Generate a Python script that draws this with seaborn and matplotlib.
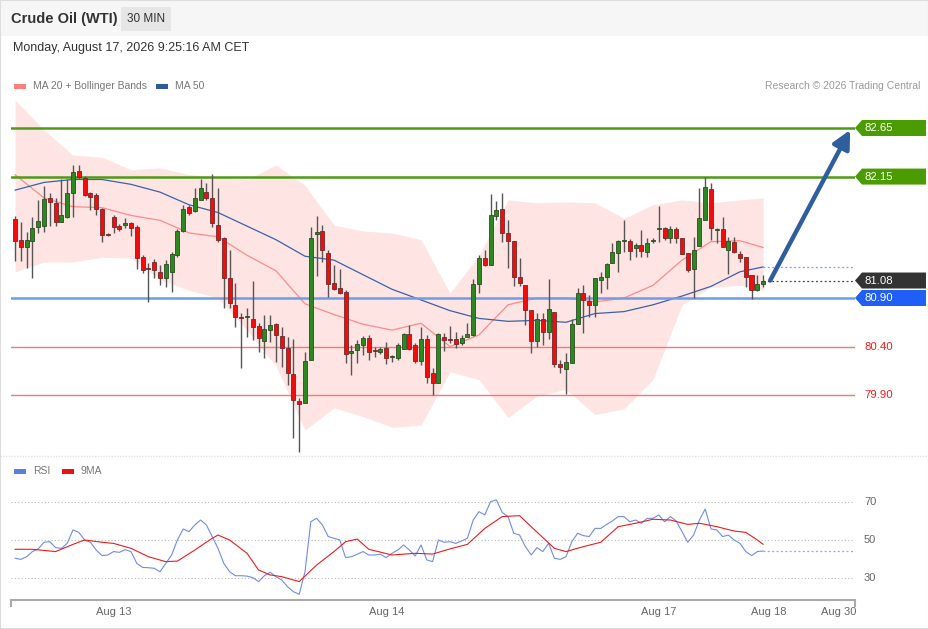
import numpy as np
import pandas as pd
import matplotlib
matplotlib.use("Agg")
import matplotlib.pyplot as plt
import matplotlib.transforms as mtransforms
from matplotlib.patches import Polygon, Rectangle
from matplotlib.lines import Line2D
import seaborn as sns

# ---------------- data (30 min candles) ----------------
opens = [81.71, 81.50, 81.42, 81.49, 81.63, 81.64, 81.93, 81.88, 81.68, 81.73,
         81.98, 82.21, 82.14, 81.98, 81.96, 81.82, 81.56, 81.73, 81.64, 81.65,
         81.67, 81.63, 81.32, 81.21, 81.27, 81.17, 81.11, 81.17, 81.34, 81.59,
         81.84, 81.80, 81.91, 81.99, 81.93, 81.65, 81.52, 81.11, 80.83, 80.70,
         80.70, 80.68, 80.61, 80.46, 80.57, 80.63, 80.51, 80.39, 80.12, 79.84,
         79.82, 80.26, 81.56, 81.59, 81.36, 81.05, 81.00, 80.96, 80.33, 80.36,
         80.42, 80.49, 80.36, 80.34, 80.39, 80.29, 80.28, 80.38, 80.53, 80.42,
         80.25, 80.48, 80.13, 80.03, 80.50, 80.48, 80.48, 80.44, 80.50, 80.52,
         81.04, 81.31, 81.24, 81.74, 81.82, 81.57, 81.49, 81.12, 81.03, 80.78,
         80.46, 80.68, 80.55, 80.76, 80.22, 80.17, 80.23, 80.63, 80.95, 80.87,
         80.83, 81.09, 81.12, 81.26, 81.36, 81.49, 81.49, 81.41, 81.45, 81.37,
         81.49, 81.61, 81.62, 81.52, 81.61, 81.52, 81.36, 81.20, 81.44, 81.70,
         82.02, 81.60, 81.61, 81.39, 81.48, 81.35, 81.32, 81.14, 80.98, 81.04]
highs = [81.74, 81.68, 81.58, 81.73, 81.91, 82.05, 81.98, 81.93, 82.12, 82.12,
         82.27, 82.27, 82.16, 81.99, 81.98, 81.83, 81.57, 81.75, 81.66, 81.72,
         81.68, 81.65, 81.34, 81.26, 81.30, 81.24, 81.29, 81.37, 81.61, 81.86,
         81.86, 82.03, 82.12, 82.08, 82.18, 82.03, 81.53, 81.39, 81.05, 80.75,
         80.80, 81.07, 80.64, 80.72, 80.72, 80.64, 80.60, 80.50, 80.48, 79.87,
         80.34, 81.63, 81.74, 81.65, 81.39, 81.24, 81.20, 80.98, 80.42, 80.47,
         80.51, 80.52, 80.40, 80.40, 80.45, 80.31, 80.44, 80.54, 80.62, 80.44,
         80.60, 80.52, 80.18, 80.54, 80.54, 80.61, 80.55, 80.52, 80.64, 81.10,
         81.34, 81.39, 81.97, 81.90, 81.98, 81.70, 81.49, 81.31, 81.03, 80.78,
         80.75, 80.75, 81.10, 80.76, 80.26, 80.33, 80.68, 81.00, 81.03, 80.93,
         81.11, 81.17, 81.26, 81.47, 81.50, 81.70, 81.51, 81.47, 81.60, 81.52,
         81.52, 81.85, 81.63, 81.64, 81.63, 81.52, 81.36, 81.53, 82.03, 82.15,
         82.08, 81.62, 81.73, 81.53, 81.53, 81.38, 81.32, 81.14, 81.14, 81.14]
lows = [81.28, 81.28, 81.21, 81.11, 81.57, 81.58, 81.64, 81.64, 81.68, 81.72,
        81.73, 82.12, 81.95, 81.81, 81.75, 81.48, 81.54, 81.57, 81.59, 81.62,
        81.54, 81.20, 81.16, 80.86, 81.11, 81.03, 81.01, 80.96, 81.32, 81.58,
        81.75, 81.79, 81.91, 81.91, 81.63, 81.48, 80.80, 80.80, 80.60, 80.18,
        80.50, 80.47, 80.34, 80.28, 80.45, 80.24, 80.19, 80.00, 79.46, 79.31,
        79.82, 80.26, 81.13, 81.27, 80.91, 80.98, 80.94, 80.23, 80.11, 80.23,
        80.31, 80.26, 80.29, 80.32, 80.22, 80.24, 80.26, 80.38, 80.36, 80.23,
        80.21, 80.03, 79.90, 80.02, 80.35, 80.44, 80.39, 80.42, 80.50, 80.51,
        80.95, 81.23, 81.24, 81.70, 81.48, 81.21, 81.02, 81.02, 80.62, 80.33,
        80.40, 80.42, 80.48, 80.19, 80.13, 79.91, 80.23, 80.63, 80.54, 80.70,
        80.70, 80.95, 80.99, 81.26, 81.17, 81.37, 81.29, 81.32, 81.32, 81.32,
        81.47, 81.48, 81.50, 81.47, 81.47, 81.35, 81.17, 80.90, 81.44, 81.70,
        81.50, 81.47, 81.43, 81.15, 81.36, 81.27, 81.01, 80.89, 80.97, 81.01]
closes = [81.49, 81.43, 81.50, 81.62, 81.69, 81.92, 81.89, 81.68, 81.75, 81.98,
          82.20, 82.15, 81.96, 81.94, 81.82, 81.55, 81.55, 81.63, 81.61, 81.67,
          81.62, 81.31, 81.19, 81.20, 81.19, 81.11, 81.25, 81.35, 81.59, 81.82,
          81.77, 81.93, 82.03, 81.93, 81.67, 81.50, 81.11, 80.85, 80.70, 80.69,
          80.70, 80.60, 80.49, 80.58, 80.62, 80.52, 80.39, 80.13, 79.85, 79.81,
          80.25, 81.52, 81.58, 81.39, 81.04, 80.99, 80.95, 80.32, 80.35, 80.43,
          80.49, 80.34, 80.35, 80.38, 80.28, 80.29, 80.42, 80.53, 80.38, 80.25,
          80.48, 80.09, 80.03, 80.53, 80.47, 80.47, 80.43, 80.49, 80.53, 81.04,
          81.31, 81.24, 81.75, 81.81, 81.57, 81.49, 81.12, 81.05, 80.78, 80.46,
          80.68, 80.55, 80.79, 80.22, 80.19, 80.24, 80.63, 80.95, 80.88, 80.83,
          81.11, 81.12, 81.25, 81.37, 81.49, 81.50, 81.38, 81.45, 81.38, 81.47,
          81.49, 81.61, 81.52, 81.61, 81.52, 81.35, 81.19, 81.39, 81.72, 82.04,
          81.62, 81.60, 81.43, 81.49, 81.37, 81.31, 81.12, 80.98, 81.04, 81.08]

# indicator curves, read at every 5th candle
band_idx = [0, 5, 10, 15, 20, 25, 30, 35, 40, 45, 50, 55, 60, 65, 70,
            75, 80, 85, 90, 95, 100, 105, 110, 115, 120, 125, 129]
ma20 = [82.17, 81.93, 81.84, 81.83, 81.75, 81.70, 81.57, 81.53, 81.34, 81.18,
        80.84, 80.73, 80.63, 80.57, 80.64, 80.40, 80.52, 80.83, 80.90, 80.90,
        80.86, 80.90, 81.03, 81.29, 81.48, 81.49, 81.42]
bb_upper = [82.94, 82.63, 82.37, 82.35, 82.22, 82.24, 82.17, 82.15, 82.12, 82.27,
            82.06, 81.65, 81.59, 81.57, 81.50, 80.95, 81.34, 81.91, 81.88, 81.89,
            81.88, 81.72, 81.86, 81.91, 81.88, 81.91, 81.93]
bb_lower = [81.17, 81.27, 81.27, 81.32, 81.31, 81.09, 80.98, 80.90, 80.57, 80.20,
            79.54, 79.77, 79.68, 79.57, 79.59, 80.14, 80.06, 79.67, 79.89, 79.96,
            79.70, 79.76, 80.06, 80.83, 81.01, 81.03, 80.98]
ma50 = [82.01, 82.09, 82.12, 82.12, 82.07, 81.99, 81.86, 81.78, 81.64, 81.50,
        81.33, 81.29, 81.14, 80.99, 80.88, 80.77, 80.69, 80.66, 80.67, 80.65,
        80.74, 80.76, 80.83, 80.92, 81.02, 81.17, 81.22]

rsi = [40.4, 39.8, 41.2, 43.9, 45.3, 48.8, 49.1, 46.0, 45.6, 48.2,
       55.3, 54.0, 50.0, 48.8, 44.7, 41.8, 42.1, 43.9, 43.5, 44.9,
       43.9, 37.7, 35.6, 35.4, 35.1, 33.3, 37.7, 42.1, 50.0, 55.8,
       54.4, 57.9, 60.5, 57.9, 51.8, 45.6, 37.7, 33.3, 31.2, 31.2,
       31.0, 30.2, 28.1, 31.2, 33.0, 30.7, 28.9, 25.4, 22.8, 21.4,
       33.3, 59.6, 61.4, 57.9, 51.8, 50.9, 50.0, 40.7, 41.2, 42.5,
       43.9, 42.1, 42.1, 42.5, 40.7, 43.0, 44.7, 47.4, 44.7, 41.6,
       47.4, 39.5, 38.6, 50.0, 48.8, 49.1, 48.2, 49.5, 50.9, 60.5,
       64.9, 63.2, 70.2, 71.1, 64.5, 62.3, 53.5, 52.6, 46.5, 42.1,
       46.0, 43.9, 48.2, 40.4, 39.8, 41.2, 49.1, 53.5, 52.3, 51.8,
       56.1, 56.1, 58.2, 60.0, 62.3, 62.3, 59.6, 60.5, 58.8, 61.4,
       61.4, 63.2, 59.6, 62.3, 60.0, 54.4, 48.8, 52.6, 60.5, 66.3,
       55.8, 55.3, 51.8, 52.6, 50.0, 48.2, 43.9, 41.8, 43.9, 44.2]
ma9_idx = [0, 3, 7, 10, 12, 15, 17, 20, 23, 26, 28, 31, 34, 35, 37, 40, 42, 44,
           46, 49, 52, 55, 57, 59, 61, 65, 69, 72, 75, 78, 81, 84, 87, 89, 93,
           95, 98, 101, 104, 107, 110, 113, 116, 118, 121, 124, 126, 128, 129]
ma9 = [45.1, 45.1, 43.9, 47.7, 50.0, 48.8, 48.2, 45.6, 41.2, 38.6, 38.9, 44.7,
       50.9, 52.6, 50.0, 43.0, 34.2, 31.6, 30.7, 28.1, 36.8, 43.9, 49.1, 50.5,
       45.1, 42.1, 43.0, 42.6, 45.3, 47.7, 56.1, 62.3, 62.8, 57.0, 45.6, 43.9,
       46.5, 48.8, 57.0, 58.8, 60.9, 60.5, 58.2, 58.8, 57.0, 54.7, 54.0, 50.0,
       47.7]

resistances = [82.65, 82.15]
pivot = 80.90
supports = [80.40, 79.90]
rsi_levels = [70, 50, 30]

day_labels = ["Aug 13", "Aug 14", "Aug 17", "Aug 18", "Aug 30"]
day_ticks = [17, 64, 111, 130, 142]

# ---------------- style ----------------
sns.set_theme(style="white")
plt.rcParams['font.family'] = ['Liberation Sans', 'DejaVu Sans']

W, H = 929, 629
fig = plt.figure(figsize=(W / 100, H / 100), dpi=100)
fig.patch.set_facecolor("white")


def fx(px):
    return px / W


def fy(py):
    return 1 - py / H


# x range in candle units (px 11 .. 855)
XMIN, XMAX = -0.69, 144.83

ax = fig.add_axes([fx(11), fy(455), fx(855) - fx(11), fy(60) - fy(455)])
ax_rsi = fig.add_axes([fx(11), fy(600), fx(855) - fx(11), fy(490) - fy(600)])

df = pd.DataFrame({"open": opens, "high": highs, "low": lows, "close": closes})
df["idx"] = np.arange(len(df))
n = len(df)

# Bollinger band and moving averages
bands = pd.DataFrame({"idx": band_idx, "ma20": ma20, "up": bb_upper,
                      "lo": bb_lower, "ma50": ma50})
ax.fill_between(bands["idx"], bands["lo"], bands["up"], color="#ffe4e4",
                lw=0, zorder=1)
sns.lineplot(data=bands, x="idx", y="ma20", ax=ax, color="#ff8a8a", lw=0.9,
             zorder=2)
sns.lineplot(data=bands, x="idx", y="ma50", ax=ax, color="#3a62a6", lw=0.9,
             zorder=2)

# horizontal levels
for lvl in resistances:
    ax.axhline(lvl, color="#4e9a18", lw=1.8, zorder=3)
ax.axhline(pivot, color="#6e9ce8", lw=1.8, zorder=3)
for lvl in supports:
    ax.axhline(lvl, color="#f07a7a", lw=1.0, zorder=3)

# candles
up = df["close"] >= df["open"]
ax.vlines(df["idx"], df["low"], df["high"], color="#555555", lw=1.0, zorder=4)
body_lo = np.minimum(df["open"], df["close"])
body_h = np.maximum((df["close"] - df["open"]).abs(), 0.012)
ax.bar(df["idx"][up], body_h[up], bottom=body_lo[up], width=0.72,
       color="#2b8a1f", edgecolor="#2d4a22", lw=0.6, zorder=5)
ax.bar(df["idx"][~up], body_h[~up], bottom=body_lo[~up], width=0.72,
       color="#f20c0c", edgecolor="#6e2a2a", lw=0.6, zorder=5)

# dotted continuations to the price scale
last_close = closes[-1]
ax.hlines(last_close, n - 1, XMAX, colors="#444444", linestyles=(0, (1.5, 2)),
          lw=0.9, zorder=3)
ax.hlines(ma50[-1], n - 1, XMAX, colors="#7f9fdc", linestyles=(0, (1.5, 2)),
          lw=0.9, zorder=3)

# forecast arrow towards the first target
ax.annotate("", xy=(n + 14, resistances[0] - 0.02), xytext=(n + 0.2, last_close),
            arrowprops=dict(arrowstyle="-|>,head_length=0.9,head_width=0.45",
                            color="#2f5e9e", lw=3.2, shrinkA=0, shrinkB=0),
            zorder=6)

ax.set_xlim(XMIN, XMAX)
ax.set_ylim(79.284, 83.35)
ax.set_axis_off()

# price tags on the right
trans = mtransforms.blended_transform_factory(ax.transAxes, ax.transData)
hh = 8 / 97.14


def price_tag(price, color):
    pts = [(1.0, price), (1.0083, price + hh), (1.0841, price + hh),
           (1.0841, price - hh), (1.0083, price - hh)]
    ax.add_patch(Polygon(pts, closed=True, transform=trans, facecolor=color,
                         edgecolor="none", clip_on=False, zorder=7))
    ax.text(1.0107, price, f"{price:.2f}", transform=trans, color="white",
            fontsize=8.2, va="center", ha="left", clip_on=False, zorder=8)


for lvl in resistances:
    price_tag(lvl, "#4a9c00")
price_tag(last_close, "#333333")
price_tag(pivot, "#1f5ff5")
for lvl in supports:
    ax.text(1.0107, lvl, f"{lvl:.2f}", transform=trans, color="#ff1a1a",
            fontsize=8.2, va="center", ha="left", clip_on=False)

# ---------------- RSI panel ----------------
rsi_df = pd.DataFrame({"idx": np.arange(n), "rsi": rsi})
ma9_df = pd.DataFrame({"idx": ma9_idx, "ma9": ma9})
for lvl in rsi_levels:
    ax_rsi.axhline(lvl, color="#bbbbbb", lw=0.8, linestyle=(0, (1, 2)))
    ax_rsi.text(1.0107, lvl, str(lvl), transform=ax_rsi.get_yaxis_transform(),
                color="#666666", fontsize=8, va="center", ha="left")
sns.lineplot(data=rsi_df, x="idx", y="rsi", ax=ax_rsi, color="#6f8de6", lw=0.8)
sns.lineplot(data=ma9_df, x="idx", y="ma9", ax=ax_rsi, color="#ee1c1c", lw=0.8)
ax_rsi.hlines(rsi[-1], n - 1, XMAX, colors="#8ea6ee", linestyles=(0, (1.5, 2)),
              lw=0.9)

ax_rsi.set_xlim(XMIN, XMAX)
ax_rsi.set_ylim(18.42, 76.3)
ax_rsi.set_xlabel("")
ax_rsi.set_ylabel("")
ax_rsi.set_yticks([])
ax_rsi.set_xticks(day_ticks)
ax_rsi.set_xticklabels(day_labels, fontsize=8, color="#666666")
ax_rsi.set_xticks([XMIN, XMAX], minor=True)
ax_rsi.tick_params(axis="x", which="major", length=0, pad=5)
ax_rsi.tick_params(axis="x", which="minor", length=5, width=1.5,
                   color="#aaaaaa", direction="out", bottom=True)
for side in ["top", "left", "right"]:
    ax_rsi.spines[side].set_visible(False)
ax_rsi.spines["bottom"].set_color("#aaaaaa")
ax_rsi.spines["bottom"].set_linewidth(1.5)
ax_rsi.set_facecolor("none")
ax.set_xlabel("")
ax.set_ylabel("")

# ---------------- header, legends, frame ----------------
fig.patches.append(Rectangle((0, fy(36)), 1, fy(0) - fy(36), transform=fig.transFigure,
                             facecolor="#f6f6f6", edgecolor="none", zorder=0))
fig.patches.append(Rectangle((fx(121), fy(31)), fx(50), fy(7) - fy(31),
                             transform=fig.transFigure, facecolor="#e6e6e6",
                             edgecolor="none", zorder=1))
fig.text(fx(11), fy(19), "Crude Oil (WTI)", fontsize=10.5, fontweight="bold",
         color="#333333", va="center")
fig.text(fx(146), fy(19), "30 MIN", fontsize=8.5, color="#333333",
         va="center", ha="center")
fig.text(fx(13), fy(48), "Monday, August 17, 2026 9:25:16 AM CET", fontsize=9,
         color="#333333", va="center")


def legend_item(x0, y0, color, label):
    fig.patches.append(Rectangle((fx(x0), fy(y0 + 3)), fx(12), fy(0) - fy(5),
                                 transform=fig.transFigure, facecolor=color,
                                 edgecolor="none", zorder=3))
    fig.text(fx(x0 + 19), fy(y0), label, fontsize=7.5, color="#777777",
             va="center")


legend_item(14, 86, "#ff7f7f", "MA 20 + Bollinger Bands")
legend_item(156, 86, "#2f5b9c", "MA 50")
legend_item(14, 471, "#5b7fe0", "RSI")
legend_item(62, 471, "#ee1111", "9MA")
fig.text(fx(920), fy(86), "Research \u00a9 2026 Trading Central", fontsize=7.5,
         color="#999999", va="center", ha="right")

fig.lines.append(Line2D([fx(0), fx(929)], [fy(456), fy(456)], transform=fig.transFigure,
                        color="#e4e4e4", lw=1, linestyle=(0, (1, 1))))
fig.patches.append(Rectangle((0, 0), 1, 1, transform=fig.transFigure, fill=False,
                             edgecolor="#dddddd", lw=1.5, zorder=5))

fig.savefig("out.png", dpi=100)
